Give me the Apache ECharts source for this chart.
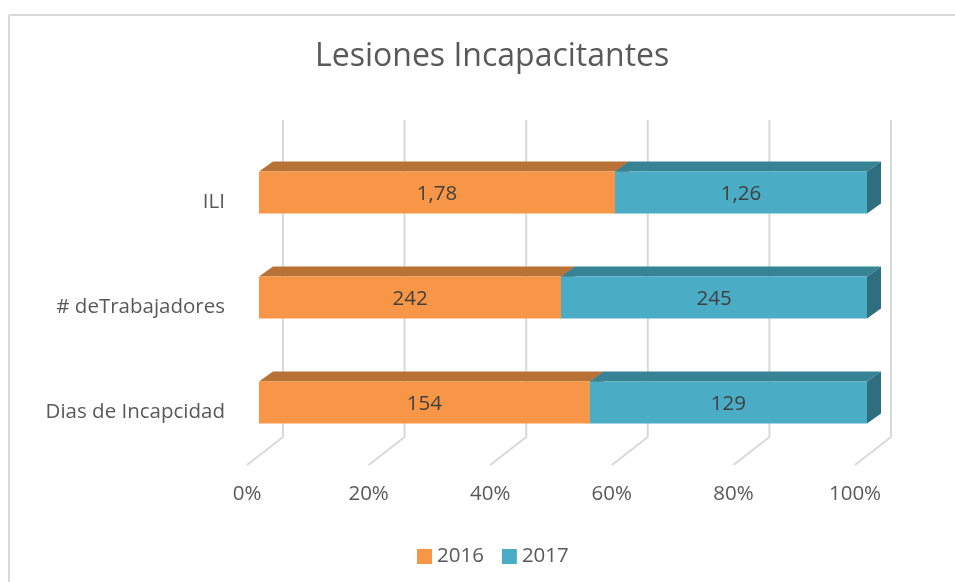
<!DOCTYPE html>
<html>
<head>
<meta charset="utf-8">
<script src="https://cdn.jsdelivr.net/npm/echarts@6/dist/echarts.min.js"></script>
<style>html,body{margin:0;padding:0;background:#fff}#c{width:955px;height:582px}</style>
</head>
<body>
<div id="c"></div>
<script>
var categories = ['ILI', '# deTrabajadores', 'Dias de Incapcidad'];
var values2016 = [1.78, 242, 154];
var values2017 = [1.26, 245, 129];
var tickValues = [0, 0.2, 0.4, 0.6, 0.8, 1.0];
var seriesNames = ['2016', '2017'];

var FONT = '"Open Sans", "Noto Sans", sans-serif';
var colors = {
  '2016': {front: '#F79646', top: '#B97236', side: '#9A5E2C'},
  '2017': {front: '#4BACC6', top: '#378396', side: '#2F6E7E'}
};

function fmt(v) { return String(v).replace('.', ','); }

function buildData(idx) {
  var out = [];
  for (var i = 0; i < categories.length; i++) {
    var total = values2016[i] + values2017[i];
    var s16 = values2016[i] / total;
    if (idx === 0) out.push([0, s16, i, values2016[i]]);
    else out.push([s16, 1, i, values2017[i]]);
  }
  return out;
}

var DX = 14, DY = -10, OFFX = 12, FRONT_TOP = -31, FRONT_H = 42;

function barRender(name) {
  return function (params, api) {
    var x0 = api.coord([api.value(0), api.value(2)]);
    var x1 = api.coord([api.value(1), api.value(2)]);
    var cy = x0[1];
    var L = x0[0] + OFFX, R = x1[0] + OFFX;
    var T = cy + FRONT_TOP, B = T + FRONT_H;
    var c = colors[name];
    return {
      type: 'group',
      children: [
        {type: 'polygon', shape: {points: [[L, T], [L + DX, T + DY], [R + DX, T + DY], [R, T]]}, style: {fill: c.top}},
        {type: 'polygon', shape: {points: [[R, T], [R + DX, T + DY], [R + DX, B + DY], [R, B]]}, style: {fill: c.side}},
        {type: 'rect', shape: {x: L, y: T, width: R - L, height: FRONT_H}, style: {fill: c.front}},
        {type: 'text', style: {x: (L + R) / 2, y: T + FRONT_H / 2 + 2, text: fmt(api.value(3)), fill: '#404040', font: '20.5px ' + FONT, textAlign: 'center', textVerticalAlign: 'middle'}}
      ]
    };
  };
}

var chart = echarts.init(document.getElementById('c'), null, {renderer: 'canvas'});
chart.setOption({
  animation: false,
  backgroundColor: '#fff',
  title: {
    text: 'Lesiones Incapacitantes', left: 310, top: 36,
    textStyle: {color: '#595959', fontSize: 32, fontWeight: 'normal', fontFamily: FONT}
  },
  legend: {
    data: seriesNames, left: 412, top: 541, icon: 'rect', itemWidth: 15, itemHeight: 15, itemGap: 18,
    textStyle: {color: '#595959', fontSize: 20.5, fontFamily: FONT}
  },
  graphic: [
    {type: 'line', shape: {x1: 9, y1: 15, x2: 955, y2: 15}, style: {stroke: '#D9D9D9', lineWidth: 2}},
    {type: 'line', shape: {x1: 9, y1: 15, x2: 9, y2: 582}, style: {stroke: '#D9D9D9', lineWidth: 2}}
  ],
  grid: {left: 247, right: 100, top: 150, height: 315},
  xAxis: {
    type: 'value', min: 0, max: 1, interval: 0.2,
    axisLine: {show: false}, axisTick: {show: false}, splitLine: {show: false},
    axisLabel: {color: '#595959', fontSize: 20.5, fontFamily: FONT, margin: 19,
      formatter: function (v) { return Math.round(v * 100) + '%'; }}
  },
  yAxis: {
    type: 'category', data: categories, inverse: true,
    axisLine: {show: false}, axisTick: {show: false}, splitLine: {show: false},
    axisLabel: {color: '#595959', fontSize: 20.5, fontFamily: FONT, margin: 22, padding: [5, 0, 0, 0]}
  },
  series: [
    {
      type: 'custom', name: 'grid', silent: true, z: 1,
      data: tickValues.map(function (v) { return [v]; }),
      renderItem: function (params, api) {
        var p = api.coord([api.value(0), 0]);
        var cs = params.coordSys;
        var fy = cs.y + cs.height;
        var x = p[0];
        return {type: 'polyline', shape: {points: [[x, fy], [x + 36, fy - 28], [x + 36, cs.y - 30]]},
          style: {stroke: '#D9D9D9', lineWidth: 2, fill: null}};
      }
    },
    {type: 'custom', name: '2016', z: 2, itemStyle: {color: colors['2016'].front}, data: buildData(0), renderItem: barRender('2016')},
    {type: 'custom', name: '2017', z: 3, itemStyle: {color: colors['2017'].front}, data: buildData(1), renderItem: barRender('2017')}
  ]
});
</script>
</body>
</html>
